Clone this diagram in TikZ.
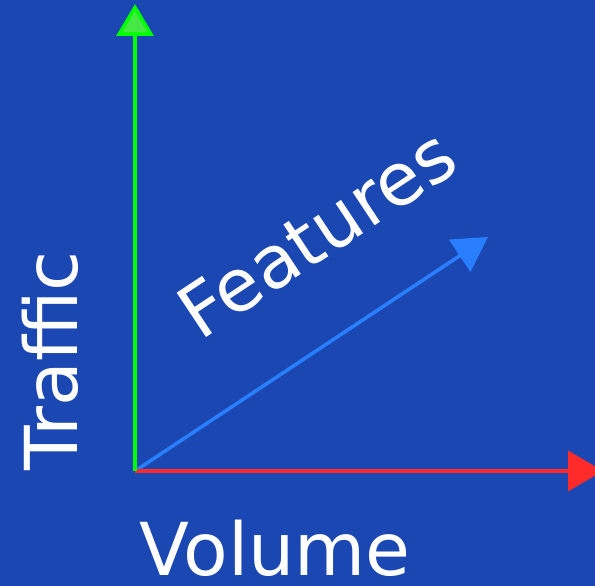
\documentclass[tikz,border=0pt]{standalone}
\usepackage{fontspec}
\setmainfont{DejaVu Sans}
\usetikzlibrary{arrows.meta}
\definecolor{bg}{RGB}{27,71,179}
\definecolor{axgreen}{RGB}{0,255,0}
\definecolor{axgreenfill}{RGB}{70,232,70}
\definecolor{axred}{RGB}{255,42,42}
\definecolor{axblue}{RGB}{42,127,255}
\tikzset{
  axis/.style={line width=3.5pt},
  lbl/.style={text=white, font=\fontsize{73}{80}\selectfont, inner sep=0pt, anchor=base},
}
\begin{document}
\begin{tikzpicture}[x=1pt,y=1pt]
\useasboundingbox (0,0) rectangle (595,586);
\clip (0,0) rectangle (595,586);
\fill[bg] (0,0) rectangle (595,586);
\coordinate (O) at (135,115);
\coordinate (Ytip) at (135,582);
\coordinate (Xtip) at (603,115);
\coordinate (Ftip) at (488,349);
\draw[axis, axblue, -{Triangle[length=34pt,width=38pt]}] (O) -- (Ftip);
\draw[axis, axred, -{Triangle[length=35pt,width=40pt]}] (O) -- (Xtip);
\draw[axis, axgreen, -{Triangle[length=32pt,width=37pt,fill=axgreenfill]}] (O) -- (Ytip);
\node[lbl, rotate=90] (traffic) at (77,225) {Traffic};
\node[lbl] (volume) at (275,10) {Volume};
\node[lbl, rotate=33.5] (features) at (331,331) {Features};
\end{tikzpicture}
\end{document}
